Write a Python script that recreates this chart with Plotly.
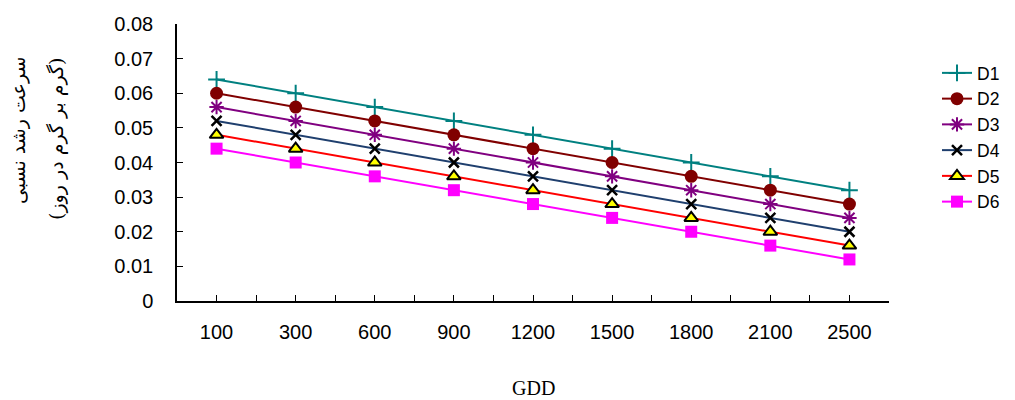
import plotly.graph_objects as go

gdd = ["100", "300", "600", "900", "1200", "1500", "1800", "2100", "2500"]
D1 = [0.064, 0.060, 0.056, 0.052, 0.048, 0.044, 0.040, 0.036, 0.032]
D2 = [0.060, 0.056, 0.052, 0.048, 0.044, 0.040, 0.036, 0.032, 0.028]
D3 = [0.056, 0.052, 0.048, 0.044, 0.040, 0.036, 0.032, 0.028, 0.024]
D4 = [0.052, 0.048, 0.044, 0.040, 0.036, 0.032, 0.028, 0.024, 0.020]
D5 = [0.048, 0.044, 0.040, 0.036, 0.032, 0.028, 0.024, 0.020, 0.016]
D6 = [0.044, 0.040, 0.036, 0.032, 0.028, 0.024, 0.020, 0.016, 0.012]
names = ["D1", "D2", "D3", "D4", "D5", "D6"]
series = [D1, D2, D3, D4, D5, D6]
y_ticks = [0, 0.01, 0.02, 0.03, 0.04, 0.05, 0.06, 0.07, 0.08]

styles = [
    dict(line=dict(color="#008080", width=2),
         marker=dict(symbol="cross-thin", size=12, color="#008080",
                     line=dict(color="#008080", width=2))),
    dict(line=dict(color="#800000", width=2),
         marker=dict(symbol="circle", size=13, color="#800000")),
    dict(line=dict(color="#800080", width=2),
         marker=dict(symbol="asterisk", size=12, color="#800080",
                     line=dict(color="#800080", width=2))),
    dict(line=dict(color="#1F3F6E", width=2),
         marker=dict(symbol="x-thin", size=10, color="#000000",
                     line=dict(color="#000000", width=2.5))),
    dict(line=dict(color="#FF0000", width=2),
         marker=dict(symbol="triangle-up", size=12, color="#FFFF00",
                     line=dict(color="#000000", width=2))),
    dict(line=dict(color="#FF00FF", width=2),
         marker=dict(symbol="square", size=12, color="#FF00FF")),
]

xidx = list(range(len(gdd)))

fig = go.Figure()
for name, vals, st in zip(names, series, styles):
    fig.add_trace(go.Scatter(x=xidx, y=vals, mode="lines+markers", name=name,
                             line=st["line"], marker=st["marker"]))

# ticks at category centres and boundaries
tickvals = []
ticktext = []
for i, lab in enumerate(gdd):
    tickvals += [i - 0.5, i]
    ticktext += ["", lab]
tickvals.append(len(gdd) - 0.5)
ticktext.append("")

sans = "Liberation Sans"
OFF = 8  # page body margin
L, R, T, B = 177 - OFF, 889 - OFF, 24 - OFF, 301 - OFF
PW, PH = R - L, B - T

fig.update_layout(
    width=1015, height=400,
    margin=dict(l=L, r=1015 - R, t=T, b=400 - B, autoexpand=False),
    paper_bgcolor="white", plot_bgcolor="white",
    font=dict(family=sans, size=20, color="black"),
    legend=dict(x=(937 - OFF - L) / PW, xanchor="left", y=(B - (55 - OFF)) / PH, yanchor="top",
                font=dict(family=sans, size=17.5), tracegroupgap=0, itemwidth=30,
                bgcolor="rgba(0,0,0,0)"),
    xaxis=dict(range=[-0.5, len(gdd) - 0.5], tickmode="array",
               tickvals=tickvals, ticktext=ticktext, automargin=False,
               tickfont=dict(family=sans, size=20),
               ticks="inside", ticklen=6, tickwidth=1, tickcolor="black",
               showline=True, linecolor="black", linewidth=1.5,
               showgrid=False, zeroline=False, ticklabelstandoff=12),
    yaxis=dict(range=[0, 0.08], tickmode="array", tickvals=y_ticks,
               ticktext=[("%g" % v) for v in y_ticks], automargin=False,
               tickfont=dict(family=sans, size=20),
               ticks="inside", ticklen=6, tickwidth=1, tickcolor="black",
               showline=True, linecolor="black", linewidth=1.5,
               showgrid=False, zeroline=False, ticklabelstandoff=18),
)

# x-axis title (serif, as in the reference)
fig.add_annotation(text="GDD", xref="paper", yref="paper",
                   x=0.5, y=(B - (388 - OFF)) / PH, showarrow=False,
                   xanchor="center", yanchor="middle",
                   font=dict(family="Liberation Serif", size=20))

fig.add_annotation(text="سرعت رشد نسبی", xref="paper", yref="paper",
                   x=(18 - OFF - L) / PW, y=(B - (131 - OFF)) / PH, textangle=-90,
                   showarrow=False, xanchor="center", yanchor="middle",
                   font=dict(family="DejaVu Serif, DejaVu Sans, serif", size=19))
fig.add_annotation(text="(گرم بر گرم در روز)", xref="paper", yref="paper",
                   x=(56 - OFF - L) / PW, y=(B - (139 - OFF)) / PH, textangle=-90,
                   showarrow=False, xanchor="center", yanchor="middle",
                   font=dict(family="DejaVu Serif, DejaVu Sans, serif", size=19))

fig.write_html("out.html")
